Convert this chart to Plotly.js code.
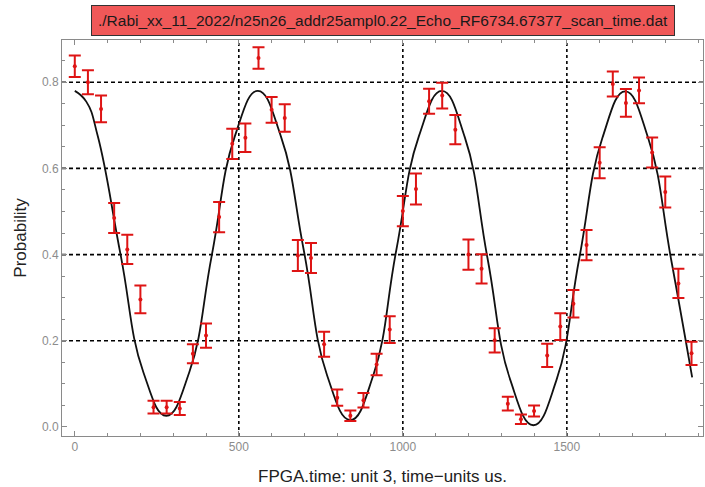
<!DOCTYPE html>
<html>
<head>
<meta charset="utf-8">
<script src="https://cdn.plot.ly/plotly-3.0.1.min.js"></script>
<style>html,body{margin:0;padding:0;background:#fff;}#chart{width:705px;height:487px;}</style>
</head>
<body>
<div id="chart"></div>
<script>
// measured data (time, probability, error)
const times = [0,40,80,120,160,200,240,280,320,360,400,440,480,520,560,600,640,680,720,760,800,840,880,920,960,1000,1040,1080,1120,1160,1200,1240,1280,1320,1360,1400,1440,1480,1520,1560,1600,1640,1680,1720,1760,1800,1840,1880];
const probs = [0.837,0.800,0.738,0.485,0.412,0.296,0.046,0.046,0.043,0.170,0.212,0.487,0.657,0.671,0.856,0.736,0.717,0.398,0.392,0.192,0.068,0.026,0.062,0.145,0.226,0.501,0.552,0.756,0.769,0.690,0.400,0.367,0.201,0.054,0.018,0.037,0.166,0.233,0.286,0.422,0.613,0.796,0.752,0.781,0.637,0.545,0.333,0.171];
const errs = [0.025,0.028,0.031,0.035,0.034,0.032,0.015,0.015,0.015,0.022,0.028,0.035,0.035,0.033,0.025,0.030,0.032,0.036,0.035,0.029,0.019,0.012,0.017,0.025,0.031,0.035,0.036,0.029,0.030,0.034,0.035,0.034,0.028,0.016,0.011,0.013,0.027,0.031,0.032,0.035,0.036,0.029,0.032,0.030,0.035,0.036,0.034,0.027];

// fit curve at roughly even steps
const fitX = [0,35,70,140,209,279,349,418,488,558,628,698,769,840,910,980,1049,1119,1189,1258,1328,1398,1468,1538,1608,1678,1748,1818,1882];
const fitY = [0.780,0.755,0.675,0.398,0.127,0.026,0.127,0.400,0.675,0.780,0.675,0.410,0.120,0.016,0.120,0.410,0.675,0.780,0.672,0.392,0.108,0.004,0.108,0.392,0.670,0.779,0.670,0.388,0.115];

// grid lines and ticks
const gridX = [500,1000,1500];
const gridY = [0.2,0.4,0.6,0.8];
const xTicks = [0,500,1000,1500];
const yTicks = [0.0,0.2,0.4,0.6,0.8];

const titleText = "./Rabi_xx_11_2022/n25n26_addr25ampl0.22_Echo_RF6734.67377_scan_time.dat";
const xTitle = "FPGA.time: unit 3, time\u2212units us.";
const yTitle = "Probability";

const red = "rgb(222,20,20)";
const traces = [
  {x: fitX, y: fitY, mode: "lines", line: {color: "#111", width: 1.8, shape: "spline", smoothing: 1.3}, hoverinfo: "skip"},
  {x: times, y: probs, mode: "markers", marker: {color: red, size: 4},
   error_y: {type: "data", array: errs, visible: true, color: red, thickness: 2, width: 6}}
];

const shapes = [];
gridX.forEach(v => shapes.push({type: "line", xref: "x", yref: "paper", x0: v, x1: v, y0: 0, y1: 1, layer: "below", line: {color: "#000", width: 1.6, dash: "3px,3px"}}));
gridY.forEach(v => shapes.push({type: "line", xref: "paper", yref: "y", x0: 0, x1: 1, y0: v, y1: v, layer: "below", line: {color: "#000", width: 1.6, dash: "4px,3px"}}));

const axisCommon = {showline: true, mirror: "ticks", linecolor: "#8a8a8a", linewidth: 1, ticks: "inside", tickcolor: "#8a8a8a", ticklen: 5, showgrid: false, zeroline: false,
  tickfont: {family: "Liberation Sans, Arial, sans-serif", size: 12, color: "#8c8c8c"}};

const layout = {
  width: 705, height: 487,
  margin: {l: 62, r: 2, t: 40, b: 51},
  paper_bgcolor: "#fff", plot_bgcolor: "#fff",
  showlegend: false,
  font: {family: "Liberation Sans, Arial, sans-serif"},
  xaxis: Object.assign({}, axisCommon, {range: [-39, 1915], tickmode: "array", tickvals: xTicks,
    minor: {dtick: 100, tick0: 0, ticks: "inside", ticklen: 3, tickcolor: "#8a8a8a", showgrid: false},
    title: {text: xTitle, font: {size: 17, color: "#222"}, standoff: 16}}),
  yaxis: Object.assign({}, axisCommon, {range: [-0.021, 0.898], tickmode: "array", tickvals: yTicks, tickformat: ".1f",
    minor: {dtick: 0.05, tick0: 0, ticks: "inside", ticklen: 3, tickcolor: "#8a8a8a", showgrid: false},
    title: {text: yTitle, font: {size: 17, color: "#222"}, standoff: 10}}),
  shapes: shapes,
  annotations: [{text: titleText, xref: "paper", yref: "paper", x: 0.5, y: 1.0485, xanchor: "center", yanchor: "middle", showarrow: false,
    font: {family: "Liberation Sans, Arial, sans-serif", size: 15.5, color: "#1a1a1a"}, bgcolor: "rgb(240,88,88)", bordercolor: "#333", borderwidth: 1, borderpad: 6}]
};

Plotly.newPlot("chart", traces, layout, {displayModeBar: false, staticPlot: true});
</script>
</body>
</html>
